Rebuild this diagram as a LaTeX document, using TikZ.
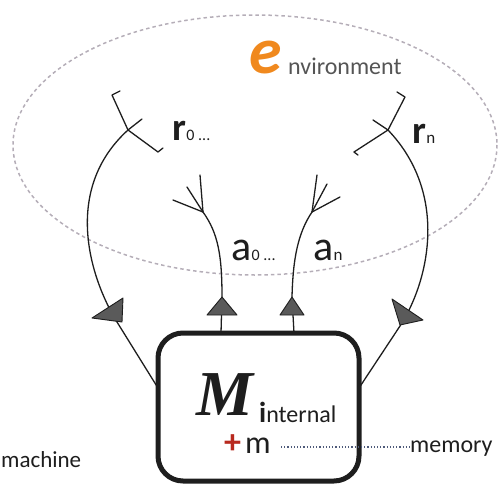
\documentclass[tikz,border=0pt]{standalone}
\usepackage{fontspec}
\setmainfont{Carlito}
\newfontfamily\mfont{Liberation Serif}
\usetikzlibrary{calc}
\definecolor{ink}{HTML}{1E1E1E}
\definecolor{envorange}{HTML}{F0891E}
\definecolor{envgrey}{HTML}{555555}
\definecolor{plusred}{HTML}{B8291E}
\definecolor{ellgrey}{HTML}{B5AEB8}
\definecolor{memdot}{HTML}{4E5A7A}
\definecolor{trifill}{HTML}{5A5A5A}
\tikzset{
  lbl/.style={anchor=base west, inner sep=0pt, text=ink},
  nerve/.style={draw=ink, line width=1.3pt, line cap=round, line join=round},
  synapse/.style={fill=trifill, draw=ink, line width=0.9pt, line join=round},
  machbox/.style={draw=ink, line width=5pt, rounded corners=25pt, inner sep=0pt,
    outer sep=0pt, minimum width=201pt, minimum height=148pt},
  envring/.style={draw=ellgrey, line width=1.5pt, dash pattern=on 3.5pt off 3pt},
}
\begin{document}
\begin{tikzpicture}[x=1pt, y=-1pt]
\useasboundingbox (0,0) rectangle (499,485);
\clip (0,0) rectangle (499,485);

% environment
\draw[envring] (255,145) ellipse [x radius=242, y radius=130];
\node[lbl, text=envorange, font=\bfseries\itshape\fontsize{66}{66}\selectfont] (ebig) at (249,73) {e};
\node[lbl, text=envgrey, font=\fontsize{24}{24}\selectfont] (erest) at (288,74) {nvironment};

% machine box
\node[machbox] (mach) at (258.5,407) {};

% attachment points on the box
\coordinate (inL) at (158,388);
\coordinate (inR) at (359,388);
\coordinate (outL) at (221,333);
\coordinate (outR) at (294,333);

% receptors
\coordinate (recL) at (128,130);
\coordinate (recR) at (388,130);
\coordinate (axL) at (203,212);
\coordinate (axR) at (312,212);

% afferent lines from receptors
\draw[nerve] (inL) -- (117,322) .. controls (90,278) and (62,190) .. (recL) -- (142,119);
\draw[nerve] (inR) -- (400,326) .. controls (428,283) and (450,195) .. (recR) -- (373,120);

% receptor bars
\draw[nerve] (120,91) -- (112,95) -- (recL) -- (158,152) -- (163,148);
\draw[nerve] (397,92) -- (405,97) -- (recR) -- (354,152) -- (358,155);

% efferent lines to the environment
\draw[nerve] (outL) -- (222,297) .. controls (222,255) and (218,233) .. (axL) -- (200,175);
\draw[nerve] (axL) -- (187,187);
\draw[nerve] (axL) -- (173,200);
\draw[nerve] (outR) -- (292,297) .. controls (293,258) and (298,233) .. (axR) -- (317,175);
\draw[nerve] (axR) -- (327,184);
\draw[nerve] (axR) -- (340,197);

% synapse triangles
\filldraw[synapse] (92,318) -- (123,298) -- (122,322) -- cycle;
\filldraw[synapse] (392,299) -- (423,320) -- (400,325) -- cycle;
\filldraw[synapse] (207,315) -- (222,297) -- (237,315) -- cycle;
\filldraw[synapse] (280,315) -- (292,297) -- (304,315) -- cycle;

% receptor and effector labels
\node[lbl, font=\bfseries\fontsize{39}{39}\selectfont] (r0) at (172,140) {r};
\node[lbl, font=\fontsize{16}{16}\selectfont] (r0s) at (r0.base east) {0 ...};
\node[lbl, font=\bfseries\fontsize{39}{39}\selectfont] (rn) at (412,143) {r};
\node[lbl, font=\fontsize{17}{17}\selectfont] (rns) at (rn.base east) {n};
\node[lbl, font=\fontsize{42}{42}\selectfont] (a0) at (231,260) {a};
\node[lbl, font=\fontsize{16}{16}\selectfont] (a0s) at (a0.base east) {0 ...};
\node[lbl, font=\fontsize{42}{42}\selectfont] (an) at (313,260) {a};
\node[lbl, font=\fontsize{17}{17}\selectfont] (ans) at (an.base east) {n};

% machine contents
\node[lbl, font=\mfont\bfseries\itshape\fontsize{64}{64}\selectfont] (Mbig) at (196,415) {M};
\node[lbl, font=\fontsize{24}{24}\selectfont] (intl) at (259,422)
  {{\bfseries\fontsize{29}{29}\selectfont i}nternal};
\node[lbl, text=plusred, font=\bfseries\fontsize{34}{34}\selectfont] (plus) at (224,453) {+};
\node[lbl, font=\fontsize{32}{32}\selectfont] (mem) at (245,453) {m};
\node[lbl, font=\fontsize{24}{24}\selectfont] (memory) at (410,452) {memory};
\draw[memdot, line width=1.2pt, dotted] (281,447) -- (memory.west |- 0,447);

\node[lbl, font=\fontsize{23}{23}\selectfont] (machine) at (1,467) {machine};
\end{tikzpicture}
\end{document}
